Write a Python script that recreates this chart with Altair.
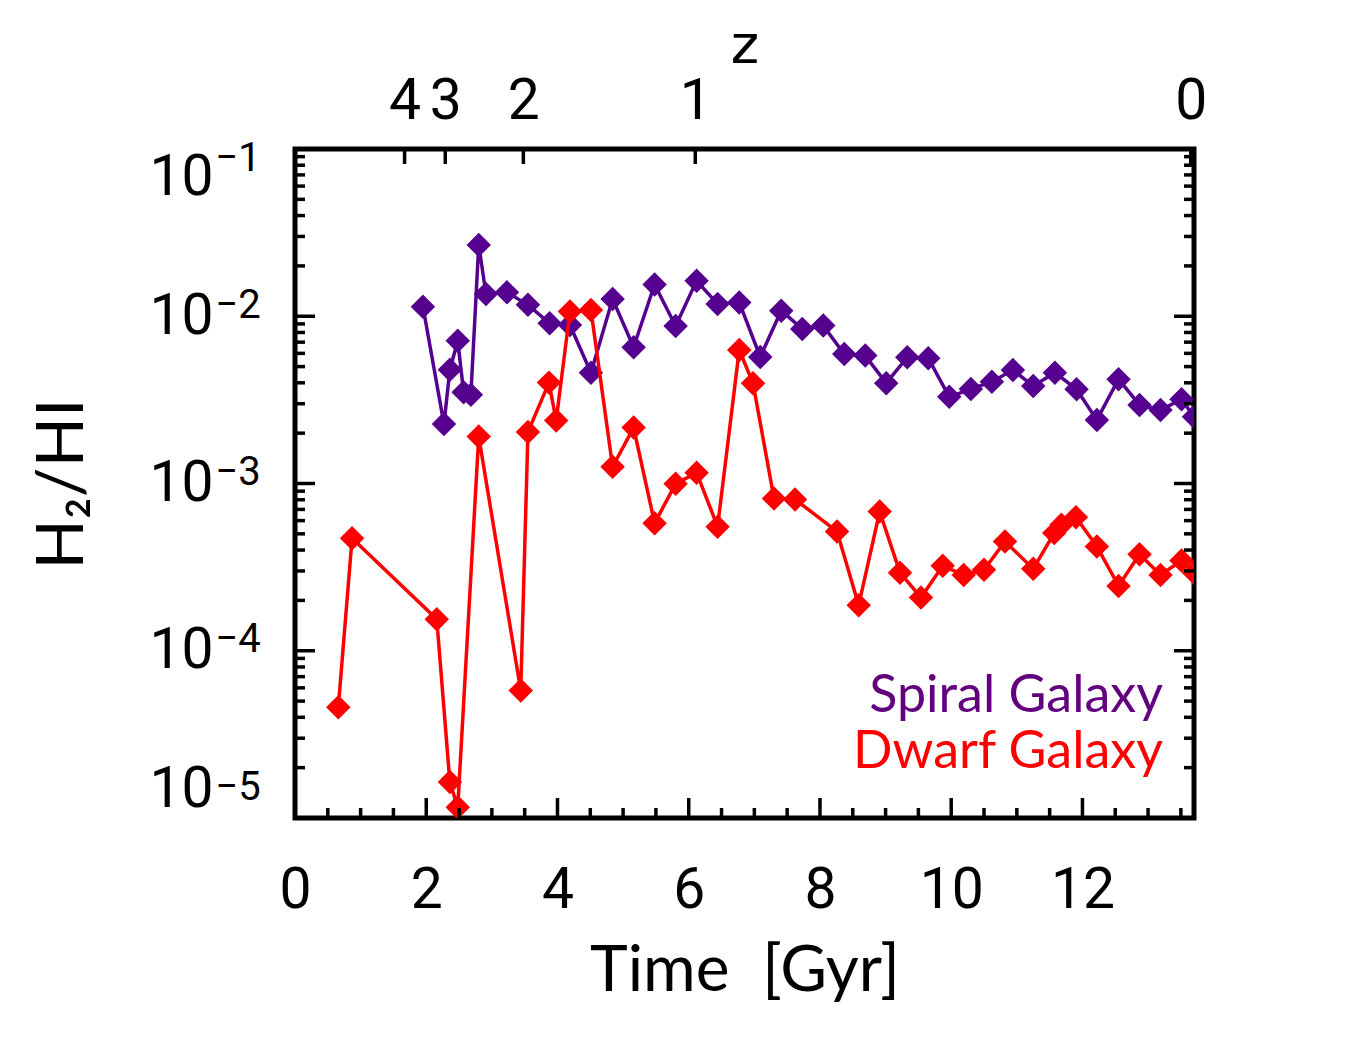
import altair as alt
import pandas as pd

# ---------------- data ----------------
spiral_time = [1.95, 2.27, 2.36, 2.48, 2.57, 2.68, 2.80, 2.91, 3.23, 3.55, 3.88, 4.19,
               4.51, 4.84, 5.16, 5.48, 5.80, 6.12, 6.44, 6.77, 7.09, 7.41, 7.73, 8.05,
               8.37, 8.69, 9.01, 9.33, 9.65, 9.97, 10.30, 10.62, 10.94, 11.25, 11.58,
               11.91, 12.22, 12.55, 12.87, 13.19, 13.51, 13.70]
spiral_ratio = [0.0114, 0.00227, 0.00478, 0.00714, 0.00351, 0.00339, 0.0267, 0.0136,
                0.0139, 0.0117, 0.00908, 0.00887, 0.0046, 0.01268, 0.00653, 0.0155,
                0.00875, 0.0163, 0.01185, 0.0121, 0.00571, 0.0108, 0.0084, 0.00879,
                0.00595, 0.00582, 0.00398, 0.00569, 0.00561, 0.0033, 0.00367, 0.00406,
                0.00477, 0.00383, 0.0046, 0.00366, 0.0024, 0.0042, 0.00295, 0.00275,
                0.00319, 0.00251]

dwarf_time = [0.66, 0.87, 2.16, 2.36, 2.48, 2.80, 3.44, 3.55, 3.87, 3.98, 4.19, 4.51,
              4.84, 5.16, 5.48, 5.80, 6.12, 6.44, 6.77, 6.98, 7.30, 7.62, 8.26, 8.59,
              8.91, 9.22, 9.54, 9.87, 10.19, 10.50, 10.82, 11.25, 11.57, 11.68, 11.90,
              12.22, 12.55, 12.87, 13.19, 13.51, 13.70]
dwarf_ratio = [4.6e-5, 4.71e-4, 1.545e-4, 1.64e-5, 1.16e-5, 1.91e-3, 5.78e-5, 2.03e-3,
               4.01e-3, 2.38e-3, 0.01066, 0.0109, 1.26e-3, 2.16e-3, 5.79e-4, 9.95e-4,
               1.16e-3, 5.52e-4, 6.29e-3, 3.97e-3, 8.14e-4, 8.03e-4, 5.17e-4, 1.87e-4,
               6.79e-4, 2.93e-4, 2.08e-4, 3.22e-4, 2.84e-4, 3.05e-4, 4.5e-4, 3.09e-4,
               5.05e-4, 5.66e-4, 6.29e-4, 4.2e-4, 2.44e-4, 3.78e-4, 2.84e-4, 3.46e-4,
               2.93e-4]

series_names = ["Spiral Galaxy", "Dwarf Galaxy"]
series_colors = ["#55008F", "#FF0000"]
legend_colors = ["#63007E", "#FF0000"]

x_major = [0, 2, 4, 6, 8, 10, 12]
x_minor = [0.5, 1, 1.5, 2.5, 3, 3.5, 4.5, 5, 5.5, 6.5, 7, 7.5, 8.5, 9, 9.5,
           10.5, 11, 11.5, 12.5, 13, 13.5]
y_major = [1e-5, 1e-4, 1e-3, 1e-2, 1e-1]
y_mantissa = ["10", "10", "10", "10", "10"]
y_exponent = ["\u22125", "\u22124", "\u22123", "\u22122", "\u22121"]
y_minor = [m * d for d in [1e-5, 1e-4, 1e-3, 1e-2] for m in range(2, 10)]

z_time = [1.67, 2.29, 3.48, 6.10, 13.65]
z_labels = ["4", "3", "2", "1", "0"]

# ---------------- layout ----------------
W, H = 899, 669
FONT = "Lato"
NUMFONT = "Roboto"
TICK_W = 3.5

xscale = alt.Scale(domain=[0, 13.7], nice=False, zero=False)
yscale = alt.Scale(type="log", domain=[1e-5, 0.1], nice=False)

spiral_df = pd.DataFrame({"time": spiral_time, "ratio": spiral_ratio})
dwarf_df = pd.DataFrame({"time": dwarf_time, "ratio": dwarf_ratio})


def lookup_expr(labels, values):
    return "[{}][indexof([{}], datum.value)]".format(
        ",".join("'%s'" % s for s in labels), ",".join(repr(v) for v in values))


x_axis_bottom = alt.Axis(
    orient="bottom", values=x_major, format="d", ticks=False, tickSize=0,
    domain=False, grid=False, labelFont=NUMFONT, labelFontSize=57, labelColor="black",
    labelPadding=44, labelFlush=False, title="Time\u00a0\u00a0[Gyr]", titleFont=FONT,
    titleFontSize=64, titleFontWeight="normal", titleColor="black",
    titleX=W / 2, titleY=172, titleBaseline="alphabetic", titleAlign="center",
)
y_axis_left = alt.Axis(
    orient="left", values=y_major, labelExpr=lookup_expr(y_mantissa, y_major),
    ticks=False, tickSize=0,
    domain=False, grid=False, labelFont=NUMFONT, labelFontSize=57, labelColor="black",
    labelPadding=82, labelFlush=True, labelOverlap=False, labelOffset=0,
    title="H₂/HI", titleFont=FONT, titleFontSize=66, titleFontWeight="normal",
    titleColor="black", titleX=-233, titleY=H / 2, titleAngle=-90,
    titleBaseline="middle", titleAlign="center",
)
y_axis_exp = alt.Axis(
    orient="left", values=y_major, labelExpr=lookup_expr(y_exponent, y_major),
    ticks=False, tickSize=0, domain=False, grid=False,
    labelFont=NUMFONT, labelFontSize=40, labelColor="black", labelAlign="left",
    labelPadding=80, labelFlush=True, labelOverlap=False, labelOffset=-11,
    title=None,
)
x_axis_top = alt.Axis(
    orient="top", values=z_time, labelExpr=lookup_expr(z_labels, z_time),
    ticks=False, tickSize=0,
    domain=False, grid=False, labelFont=NUMFONT, labelFontSize=57, labelColor="black",
    labelPadding=19, labelFlush=False, labelOverlap=False,
    title="z", titleFont="DejaVu Sans", titleFontSize=54, titleFontWeight="normal",
    titleColor="black", titleX=W / 2, titleY=-87, titleBaseline="alphabetic",
    titleAlign="center",
)


def series_layers(df, color, with_axes):
    xenc = alt.X("time:Q", scale=xscale, axis=x_axis_bottom if with_axes else None)
    yenc = alt.Y("ratio:Q", scale=yscale, axis=y_axis_left if with_axes else None)
    line = alt.Chart(df).mark_line(color=color, strokeWidth=3.5, clip=True).encode(
        x=xenc, y=yenc)
    pts = alt.Chart(df).mark_point(
        shape="diamond", filled=True, color=color, size=600, opacity=1, clip=True
    ).encode(x=alt.X("time:Q", scale=xscale, axis=None),
             y=alt.Y("ratio:Q", scale=yscale, axis=None))
    return [line, pts]


def xtick_layer(values, length, top=False):
    df = pd.DataFrame({"time": values})
    if top:
        y0, y1 = 0, length
    else:
        y0, y1 = H, H - length
    return alt.Chart(df).mark_rule(color="black", strokeWidth=TICK_W, strokeCap="butt").encode(
        x=alt.X("time:Q", scale=xscale, axis=None),
        y=alt.value(y0), y2=alt.value(y1))


def ytick_layer(values, length, right=False, axis=None):
    df = pd.DataFrame({"ratio": values})
    if right:
        x0, x1 = W, W - length
    else:
        x0, x1 = 0, length
    return alt.Chart(df).mark_rule(color="black", strokeWidth=TICK_W, strokeCap="butt").encode(
        y=alt.Y("ratio:Q", scale=yscale, axis=axis),
        x=alt.value(x0), x2=alt.value(x1))


# top axis (redshift) layer
z_df = pd.DataFrame({"time": z_time})
z_ticks = alt.Chart(z_df).mark_rule(color="black", strokeWidth=TICK_W, strokeCap="butt").encode(
    x=alt.X("time:Q", scale=xscale, axis=x_axis_top),
    y=alt.value(0), y2=alt.value(15))

legend_layers = []
for name, col, ypos in zip(series_names, legend_colors, [563, 619]):
    ldf = pd.DataFrame({"label": [name]})
    legend_layers.append(
        alt.Chart(ldf).mark_text(align="right", baseline="alphabetic", font=FONT,
                                 fontSize=52, color=col).encode(
            text="label:N", x=alt.value(W - 31), y=alt.value(ypos)))

layers = []
layers += series_layers(spiral_df, series_colors[0], True)
layers += series_layers(dwarf_df, series_colors[1], False)
layers += [xtick_layer(x_major, 20), xtick_layer(x_minor, 10),
           ytick_layer(y_major, 20, axis=y_axis_exp), ytick_layer(y_minor, 10),
           ytick_layer(y_major, 20, right=True), ytick_layer(y_minor, 10, right=True),
           z_ticks]
layers += legend_layers

chart = alt.layer(*layers).resolve_axis(x="independent", y="independent").properties(
    width=W, height=H,
    autosize=alt.AutoSizeParams(type="none"),
    padding={"left": 287, "top": 141, "right": 130, "bottom": 215},
    background="white",
).configure_view(stroke="black", strokeWidth=5)

chart.save("out.html", embed_options={"renderer": "svg", "actions": False})
